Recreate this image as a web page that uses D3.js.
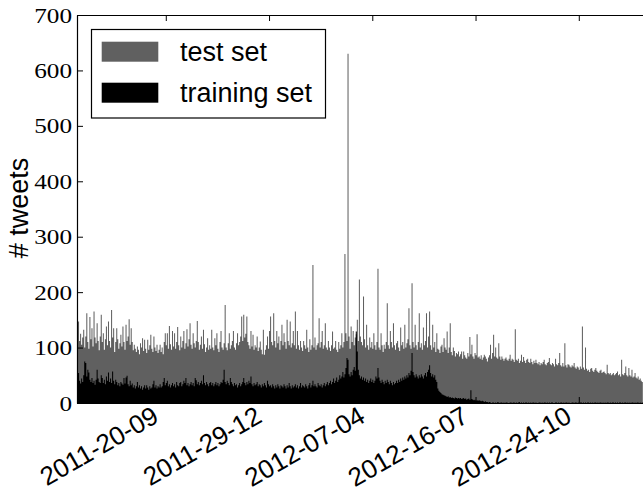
<!DOCTYPE html>
<html>
<head>
<meta charset="utf-8">
<script src="https://cdn.jsdelivr.net/npm/d3@7"></script>
<style>
  html, body { margin: 0; padding: 0; background: #fff; }
  svg { display: block; }
</style>
</head>
<body>
<svg id="chart" width="643" height="502"></svg>
<script>
// ---------------- DATA ----------------
const startDay = "2011-06-26";          // first daily bin
const seriesNames = ["test set", "training set"];
const seriesColors = ["#606060", "#000000"];

// daily tweet counts, test set (one value per day starting at startDay)
const testCounts = [
  144,147,112,125,105,118,132,100,120,162,
  110,98,155,115,135,102,165,118,108,144,
  112,95,120,159,110,126,96,115,138,104,
  147,112,100,168,118,135,92,110,135,115,
  98,108,123,102,138,110,96,141,112,120,
  151,105,135,110,95,105,98,92,102,96,
  88,108,100,117,94,114,98,90,114,96,
  104,123,98,92,120,100,94,105,90,96,
  105,92,100,88,110,126,104,126,98,139,
  106,96,130,102,126,98,110,137,104,95,
  120,100,112,130,98,108,133,102,115,144,
  105,98,126,108,100,112,148,110,96,105,
  120,98,132,106,92,100,117,96,104,98,
  132,100,95,117,104,126,98,92,110,130,
  100,96,108,177,100,95,108,126,98,104,
  112,130,100,96,108,126,104,110,120,156,
  112,159,118,125,156,110,104,98,130,102,
  123,96,104,100,120,94,100,111,96,88,
  132,87,96,104,120,98,130,156,110,104,
  162,112,100,130,108,120,96,112,141,104,
  126,110,98,150,112,104,147,100,108,130,
  104,165,98,130,104,96,112,100,94,112,
  104,98,132,100,92,115,96,104,249,100,
  118,96,104,108,153,100,110,130,98,104,
  144,100,96,112,100,94,104,129,98,100,
  112,96,92,110,98,104,126,100,110,269,
  126,112,630,120,98,138,110,130,104,118,
  124,150,112,223,120,110,104,192,115,100,
  141,104,96,118,100,110,98,126,104,96,
  110,242,100,96,126,104,92,105,98,110,
  180,104,98,130,110,100,144,104,96,108,
  112,100,94,136,104,110,98,141,100,108,
  115,171,104,98,216,110,100,141,104,96,
  110,162,100,108,96,136,104,112,162,100,
  120,165,104,96,141,100,110,92,126,98,
  96,90,102,105,92,117,100,96,129,90,
  100,144,92,86,100,94,84,90,88,93,
  84,88,93,80,93,86,82,80,90,84,
  119,88,105,84,80,90,86,124,82,84,
  80,86,78,82,87,84,80,75,82,86,
  105,80,90,123,84,100,82,80,108,84,
  78,84,80,76,80,82,78,76,80,87,
  76,80,78,74,133,78,76,80,72,76,
  87,74,83,76,72,78,80,74,72,80,
  74,70,76,72,78,72,70,74,68,72,
  70,74,78,70,68,72,74,81,70,68,
  72,70,66,80,70,68,72,90,68,66,
  72,66,108,68,64,70,69,66,64,68,
  66,72,64,62,66,64,60,66,62,138,
  64,60,100,62,58,60,56,62,63,58,
  56,60,63,58,56,54,58,60,54,56,
  57,54,52,69,54,52,54,50,52,54,
  50,52,54,57,50,52,48,78,52,50,
  54,66,50,48,63,50,48,60,46,48,
  54,46,44,48,42,44,40,38
];

// daily tweet counts, training set
const trainCounts = [
  47,54,40,35,44,38,50,75,72,48,
  60,55,42,38,45,36,40,33,42,60,
  44,38,36,50,45,36,42,34,48,40,
  55,38,44,36,57,40,34,42,38,32,
  36,30,38,35,33,45,35,46,49,34,
  30,40,32,35,28,32,26,30,38,28,
  32,26,30,24,28,32,26,32,28,24,
  30,26,28,34,40,28,32,26,30,28,
  34,28,30,38,45,32,36,40,30,34,
  28,32,36,30,34,28,38,32,30,36,
  38,30,34,40,36,45,32,36,30,34,
  38,32,36,30,45,41,34,38,32,36,
  40,34,50,36,32,38,34,30,36,38,
  32,36,30,34,38,32,36,30,34,38,
  36,42,60,38,34,40,36,32,45,38,
  34,30,36,32,34,28,32,36,30,34,
  38,45,36,32,38,34,40,36,48,34,
  30,36,32,34,38,30,34,32,28,34,
  30,36,32,28,40,34,30,32,28,34,
  30,26,32,28,34,30,26,32,30,28,
  34,30,26,32,28,36,30,26,32,28,
  30,34,28,32,26,30,36,28,32,30,
  28,34,30,26,32,36,28,32,40,30,
  34,30,28,36,32,30,34,28,32,36,
  30,34,38,32,36,40,34,38,44,36,
  40,46,38,42,50,44,48,56,46,52,
  63,81,78,52,48,56,50,60,65,58,
  129,93,60,50,44,48,42,46,40,44,
  38,42,36,40,44,38,42,36,40,48,
  44,63,46,40,36,42,38,34,40,36,
  42,38,34,40,36,32,38,34,36,40,
  36,42,38,44,40,46,42,48,44,50,
  46,54,50,58,90,56,50,46,52,48,
  44,50,46,52,48,44,50,54,48,56,
  60,68,54,48,52,46,50,42,38,26,
  22,20,18,16,15,14,13,12,11,12,
  10,11,9,10,9,8,10,9,8,9,
  8,9,7,8,9,7,8,6,7,8,
  6,23,7,6,5,6,4,5,4,5,
  4,3,4,3,2,3,2,2,1,2,
  1,0,1,1,0,1,0,2,1,0,
  1,1,0,1,0,1,1,0,0,1,
  1,0,1,1,0,1,0,1,2,0,
  1,0,1,0,1,1,0,1,0,1,
  0,1,1,0,1,0,0,1,1,0,
  1,0,1,1,0,1,0,1,0,1,
  1,0,0,1,1,0,1,0,1,1,
  0,1,0,1,1,0,1,0,0,1,
  1,0,1,1,0,1,0,1,1,0,
  1,0,1,0,1,1,0,1,0,1,
  0,1,1,0,1,0,1,1,0,1,
  0,1,0,1,1,0,1,0,1,1,
  0,1,0,1,0,1,1,0,1,0,
  1,1,0,1,0,1,0,1,1,0,
  1,0,1,1,0,1,0,1
];

const xTickDates = ["2011-09-20", "2011-12-29", "2012-04-07", "2012-07-16", "2012-10-24"];
const xTickLabels = ["2011-20-09", "2011-29-12", "2012-07-04", "2012-16-07", "2012-24-10"];
const yTickValues = [0, 100, 200, 300, 400, 500, 600, 700];
const yLabel = "# tweets";

// ---------------- CHART ----------------
(function () {
const svg = d3.select("#chart");
const parse = d3.utcParse("%Y-%m-%d");
const start = parse(startDay);
const nDomainDays = 560;

const mLeft = 77, mTop = 15, mBottom = 403;
const pxPerDay = 1.0325;
const mRight = mLeft + nDomainDays * pxPerDay;

const x = d3.scaleUtc()
  .domain([start, d3.utcDay.offset(start, nDomainDays)])
  .range([mLeft, mRight]);
const y = d3.scaleLinear().domain([0, 700]).range([mBottom, mTop]);

svg.append("rect").attr("width", 643).attr("height", 502).attr("fill", "#fff");

svg.append("clipPath").attr("id", "plotclip")
  .append("rect").attr("x", mLeft).attr("y", mTop)
  .attr("width", mRight - mLeft).attr("height", mBottom - mTop);

const plot = svg.append("g").attr("clip-path", "url(#plotclip)");

// daily bins drawn as one stepped outline per series (no seams between bars)
const area = d3.area()
  .curve(d3.curveStepAfter)
  .x(d => x(d.date))
  .y0(y(0))
  .y1(d => y(d.value));

function drawBars(values, color) {
  const pts = values.map((v, i) => ({ date: d3.utcDay.offset(start, i), value: v }));
  pts.push({ date: d3.utcDay.offset(start, values.length), value: values[values.length - 1] });
  plot.append("path")
    .datum(pts)
    .attr("d", area)
    .attr("fill", color)
    .attr("stroke", "none");
}
drawBars(testCounts, seriesColors[0]);
drawBars(trainCounts, seriesColors[1]);

const tickDates = xTickDates.map(parse);

function styleAxis(g) {
  g.select(".domain").attr("stroke", "#000").attr("stroke-width", 1.2);
  g.selectAll(".tick line").attr("stroke", "#000").attr("stroke-width", 1);
}

// left axis (ticks inward)
const gLeft = svg.append("g")
  .attr("transform", `translate(${mLeft},0)`)
  .call(d3.axisLeft(y).tickValues(yTickValues).tickSizeInner(-6).tickSizeOuter(0).tickPadding(5));
styleAxis(gLeft);
gLeft.attr("font-family", null).attr("font-size", null);
gLeft.selectAll(".tick text")
  .style("font-family", "'Liberation Serif', 'Times New Roman', serif")
  .style("font-size", "21px")
  .attr("fill", "#000")
  .attr("dy", "0.34em")
  .attr("textLength", d => String(d).length * 12.6)
  .attr("lengthAdjust", "spacingAndGlyphs");

// right axis (off-canvas, ticks inward)
const gRight = svg.append("g")
  .attr("transform", `translate(${mRight},0)`)
  .call(d3.axisRight(y).tickValues(yTickValues).tickSizeInner(-6).tickSizeOuter(0).tickFormat(""));
styleAxis(gRight);

// top axis
const gTop = svg.append("g")
  .attr("transform", `translate(0,${mTop})`)
  .call(d3.axisTop(x).tickValues(tickDates).tickSizeInner(-6).tickSizeOuter(0).tickFormat(""));
styleAxis(gTop);

// bottom axis
const gBottom = svg.append("g")
  .attr("transform", `translate(0,${mBottom})`)
  .call(d3.axisBottom(x).tickValues(tickDates).tickSizeInner(-6).tickSizeOuter(0)
    .tickFormat((d, i) => xTickLabels[i]));
styleAxis(gBottom);
gBottom.attr("font-family", null).attr("font-size", null);
gBottom.selectAll(".tick text")
  .attr("y", null).attr("dy", null)
  .attr("text-anchor", "end")
  .attr("transform", "translate(-6,18) rotate(-30)")
  .style("font-family", "'Liberation Sans', Arial, sans-serif")
  .style("font-size", "26px")
  .attr("fill", "#000");

// y label
svg.append("text")
  .attr("transform", "translate(28,208) rotate(-90)")
  .attr("text-anchor", "middle")
  .style("font-family", "'Liberation Sans', Arial, sans-serif")
  .style("font-size", "27px")
  .attr("fill", "#000")
  .text(yLabel);

// legend
const lg = svg.append("g");
lg.append("rect")
  .attr("x", 91.5).attr("y", 29.5).attr("width", 234).attr("height", 88.5)
  .attr("fill", "#fff").attr("stroke", "#000").attr("stroke-width", 1.2);
seriesNames.forEach((name, i) => {
  const cy = 51.7 + i * 41;
  lg.append("rect")
    .attr("x", 101.7).attr("y", cy - 10).attr("width", 56.6).attr("height", 20)
    .attr("fill", seriesColors[i]);
  lg.append("text")
    .attr("x", 180).attr("y", cy + 9.7)
    .style("font-family", "'Liberation Sans', Arial, sans-serif")
    .style("font-size", "27px")
    .attr("fill", "#000")
    .text(name);
});
})();
</script>
</body>
</html>
